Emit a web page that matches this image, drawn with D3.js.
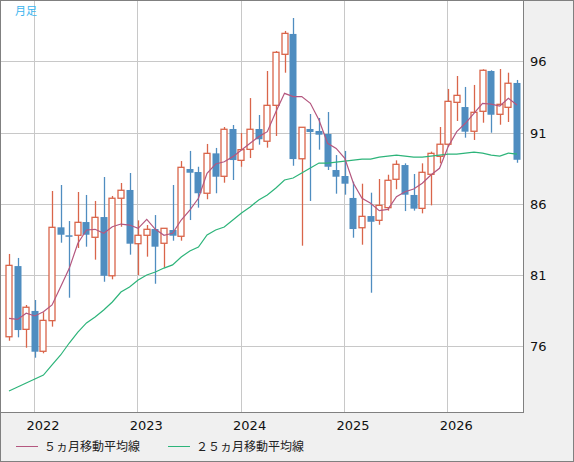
<!DOCTYPE html>
<html><head><meta charset="utf-8">
<script src="https://cdn.jsdelivr.net/npm/d3@7"></script>
<style>
body{margin:0;background:#fff;font-family:"DejaVu Sans",sans-serif;}
</style></head><body>
<svg id="c" width="574" height="462"></svg>
<script>
// monthly candles, Oct 2021 .. Sep 2026
var opens  = [76.67,81.63,77.19,78.48,75.65,77.80,84.35,83.79,83.79,84.72,83.65,85.07,80.95,86.39,86.97,83.20,83.79,84.23,83.23,84.16,
              83.72,88.44,88.23,86.74,89.54,87.93,91.25,89.05,89.82,91.25,90.39,92.91,96.49,97.92,89.16,91.25,91.11,90.90,88.37,87.95,
              86.41,84.32,85.14,84.84,85.73,87.72,88.72,86.62,85.68,88.07,89.33,90.18,93.12,92.79,91.09,92.49,95.32,92.28,92.77,94.48];
var highs  = [82.48,82.20,78.90,79.25,78.39,86.90,87.32,84.79,86.83,86.62,86.20,87.88,86.55,87.46,88.16,84.84,84.51,85.21,84.30,87.32,
              89.00,89.71,88.60,90.20,89.92,91.39,91.53,90.97,93.42,92.23,95.32,96.72,98.13,99.04,91.37,92.30,92.02,92.44,89.42,89.71,
              87.55,87.41,86.78,87.74,88.04,89.05,88.84,88.09,88.84,89.66,91.39,94.06,94.97,94.20,94.34,95.44,95.37,95.46,95.20,94.69];
var lows   = [76.39,76.63,75.90,75.20,75.51,77.38,83.27,79.41,82.90,82.99,82.08,80.53,80.70,84.39,82.43,81.00,82.29,80.39,81.52,83.41,
              83.41,84.86,85.73,86.32,86.74,87.48,87.67,88.60,89.21,90.15,89.94,90.76,95.20,88.67,83.06,86.20,89.80,88.37,86.71,86.64,
              83.62,83.13,79.76,84.53,85.52,87.02,85.49,85.52,85.33,85.89,88.84,90.01,91.81,90.64,90.48,91.69,90.99,91.55,91.74,88.88];
var closes = [81.68,77.14,78.74,75.62,77.82,84.35,83.83,83.74,84.70,83.83,85.05,80.95,86.39,86.95,83.20,83.79,84.21,82.99,84.28,83.76,
              88.56,88.18,86.74,89.54,87.90,91.23,89.07,89.80,91.23,90.53,92.91,96.63,97.96,89.14,91.37,91.04,90.85,88.60,87.90,87.41,
              84.23,85.12,84.74,85.89,87.65,88.77,86.64,85.66,88.21,89.54,90.18,93.19,93.61,91.06,92.42,95.37,92.25,92.98,94.46,89.09];
var ma5    = [77.96,77.89,78.32,78.13,78.43,78.90,80.18,81.47,83.23,84.16,84.21,83.93,84.39,84.58,84.51,84.28,84.91,84.21,83.79,83.93,
              84.86,85.56,86.39,88.14,88.79,88.95,89.31,89.78,90.25,90.71,91.06,92.46,93.75,93.52,93.52,93.05,91.88,90.25,89.89,89.19,
              87.44,86.39,86.04,85.52,85.61,86.50,86.85,87.04,87.44,88.02,88.49,90.01,91.06,91.65,92.35,93.05,93.00,92.86,93.40,92.93];
var ma25   = [72.86,73.14,73.42,73.70,73.98,74.69,75.39,76.23,77.00,77.64,78.06,78.55,79.11,79.81,80.16,80.65,81.00,81.21,81.49,81.71,
              82.27,82.69,82.97,83.81,84.16,84.37,84.86,85.35,85.78,86.27,86.62,87.11,87.67,87.81,88.16,88.51,88.86,88.86,88.93,89.00,
              89.07,89.14,89.14,89.28,89.35,89.42,89.35,89.28,89.28,89.35,89.42,89.49,89.49,89.56,89.63,89.56,89.42,89.35,89.56,89.49];
var yearLabels = ["2022","2023","2024","2025","2026"];
var yearIdx = [3,15,27,39,51]; // index of January candle
var yTicks = [76,81,86,91,96];

var W = 574, H = 462;
var pL = 1, pT = 1, pR = 523, pB = 412;
var svg = d3.select("#c");

// panels
svg.append("rect").attr("x",0).attr("y",0).attr("width",W).attr("height",H).attr("fill","#f0f0f0");
svg.append("rect").attr("x",0.5).attr("y",0.5).attr("width",W-1).attr("height",H-1)
  .attr("fill","none").attr("stroke","#808080");
svg.append("rect").attr("x",pL).attr("y",pT).attr("width",pR-pL).attr("height",pB-pT).attr("fill","#fff");

var x = d3.scaleLinear().domain([0,59]).range([9,517]);
var y = d3.scaleLinear().domain([76,96]).range([346.3,61.3]);

svg.append("clipPath").attr("id","clip").append("rect")
  .attr("x",pL).attr("y",pT).attr("width",pR-pL).attr("height",pB-pT);
var g = svg.append("g").attr("clip-path","url(#clip)");
// grid
g.selectAll("line.hg").data(yTicks).enter().append("line")
  .attr("x1",pL).attr("x2",pR).attr("y1",d=>Math.round(y(d))+0.5).attr("y2",d=>Math.round(y(d))+0.5)
  .attr("stroke","#c8c8c8");
g.selectAll("line.vg").data(yearIdx).enter().append("line")
  .attr("x1",d=>Math.round(x(d-0.1))+0.5).attr("x2",d=>Math.round(x(d-0.1))+0.5)
  .attr("y1",pT).attr("y2",pB).attr("stroke","#c8c8c8");

var upCol = "#d9654a", dnCol = "#4f8dc0";
var idx = d3.range(opens.length);
var cg = g.append("g");
// wicks
cg.selectAll("line.w").data(idx).enter().append("line")
  .attr("x1",i=>Math.round(x(i))+0.5).attr("x2",i=>Math.round(x(i))+0.5)
  .attr("y1",i=>y(highs[i])).attr("y2",i=>y(lows[i]))
  .attr("stroke",i=>closes[i]>=opens[i]?upCol:dnCol).attr("stroke-width",1.3);
// bodies
cg.selectAll("rect.b").data(idx).enter().append("rect")
  .attr("x",i=>Math.round(x(i))-3+ (closes[i]>=opens[i]?0.5:0) - 0.5)
  .attr("width",i=>closes[i]>=opens[i]?6:7)
  .attr("y",i=>y(Math.max(opens[i],closes[i])))
  .attr("height",i=>Math.max(1.5,Math.abs(y(opens[i])-y(closes[i]))))
  .attr("fill",i=>closes[i]>=opens[i]?"#fff":dnCol)
  .attr("stroke",i=>closes[i]>=opens[i]?upCol:"none")
  .attr("stroke-width",1.3);

var line = d3.line().x((d,i)=>x(i)).y(d=>y(d));
g.append("path").datum(ma25).attr("d",line).attr("fill","none").attr("stroke","#2db47a").attr("stroke-width",1.2);
g.append("path").datum(ma5).attr("d",line).attr("fill","none").attr("stroke","#b4577f").attr("stroke-width",1.2);

// plot frame
svg.append("rect").attr("x",pL-0.5).attr("y",pT-0.5).attr("width",pR-pL+1).attr("height",pB-pT+1)
  .attr("fill","none").attr("stroke","#808080");

// right axis labels
svg.selectAll("text.yl").data(yTicks).enter().append("text")
  .attr("x",530).attr("y",d=>y(d)+5).text(d=>d)
  .attr("font-size",13).attr("fill","#111");
// year labels
svg.selectAll("text.xl").data(yearIdx).enter().append("text")
  .attr("x",(d,i)=>x(yearIdx[i]-0.1)+9).attr("y",430).attr("text-anchor","middle")
  .text((d,i)=>yearLabels[i]).attr("font-size",13).attr("fill","#111");

svg.append("text").attr("x",15).attr("y",15).text("月足").attr("font-size",11)
  .attr("fill","#3ab4ee").attr("font-family","Noto Sans CJK JP");

// legend
var leg = [{t:"５ヵ月移動平均線",c:"#b4577f",x:16},{t:"２５ヵ月移動平均線",c:"#2db47a",x:168}];
leg.forEach(function(l){
  svg.append("line").attr("x1",l.x).attr("x2",l.x+22).attr("y1",446.5).attr("y2",446.5).attr("stroke",l.c);
  svg.append("text").attr("x",l.x+28).attr("y",451).text(l.t).attr("font-size",12)
    .attr("fill","#222").attr("font-family","Noto Sans CJK JP");
});
</script></body></html>
